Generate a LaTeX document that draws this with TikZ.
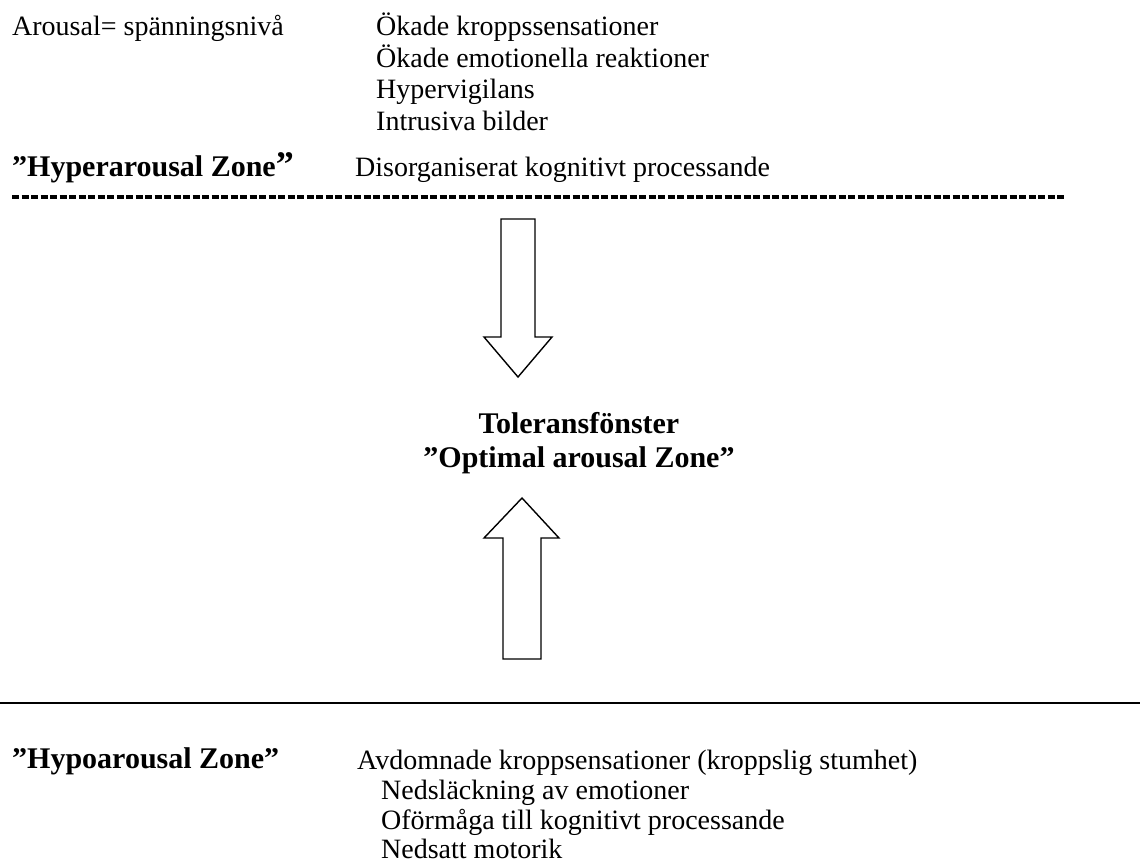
\documentclass[tikz,border=0pt]{standalone}
\usepackage{fontspec}
\setmainfont{Liberation Serif}
\begin{document}
\begin{tikzpicture}[x=1pt,y=-1pt,
  txt/.style={anchor=base west,inner sep=0pt,font=\fontsize{28}{32}\selectfont},
  btxt/.style={anchor=base west,inner sep=0pt,font=\fontsize{30}{34}\selectfont\bfseries},
  ctxt/.style={anchor=base,inner sep=0pt,font=\fontsize{30}{34}\selectfont\bfseries},
  blockarrow/.style={draw=black,line width=1.4pt,fill=white,line join=miter}]
\useasboundingbox (0,0) rectangle (1140,865);
% top block
\node[txt] (arousal) at (12,35) {Arousal= spänningsnivå};
\node[txt] (h1) at (376,35) {Ökade kroppssensationer};
\node[txt] (h2) at (376,67) {Ökade emotionella reaktioner};
\node[txt] (h3) at (376,98) {Hypervigilans};
\node[txt] (h4) at (376,130) {Intrusiva bilder};
\node[btxt] (hyper) at (12,176) {”Hyperarousal Zone{\fontsize{36}{36}\selectfont ”}};
\node[txt] (h5) at (355,176) {Disorganiserat kognitivt processande};
\coordinate (dl) at (12,197);
\coordinate (dr) at (1065,197);
\draw[line width=3.2pt,dash pattern=on 7pt off 2.5pt] (dl) -- (dr);
% down arrow
\draw[blockarrow] (501,219) -- (535,219) -- (535,337) -- (552,337) -- (518,377) -- (484,337) -- (501,337) -- cycle;
% middle text
\node[ctxt] (tol) at (579,433) {Toleransfönster};
\node[ctxt] (opt) at (579,467) {”Optimal arousal Zone”};
% up arrow
\draw[blockarrow] (503,659) -- (541,659) -- (541,538) -- (559,538) -- (522,498) -- (484,538) -- (503,538) -- cycle;
% solid line
\coordinate (sl) at (0,703);
\coordinate (sr) at (1140,703);
\draw[line width=2.8pt] (sl) -- (sr);
% bottom block
\node[btxt] (hypo) at (12,768) {”Hypoarousal Zone”};
\node[txt] (b1) at (357,769) {Avdomnade kroppsensationer (kroppslig stumhet)};
\node[txt] (b2) at (381,799) {Nedsläckning av emotioner};
\node[txt] (b3) at (381,829) {Oförmåga till kognitivt processande};
\node[txt] (b4) at (381,858) {Nedsatt motorik};
\end{tikzpicture}
\end{document}
